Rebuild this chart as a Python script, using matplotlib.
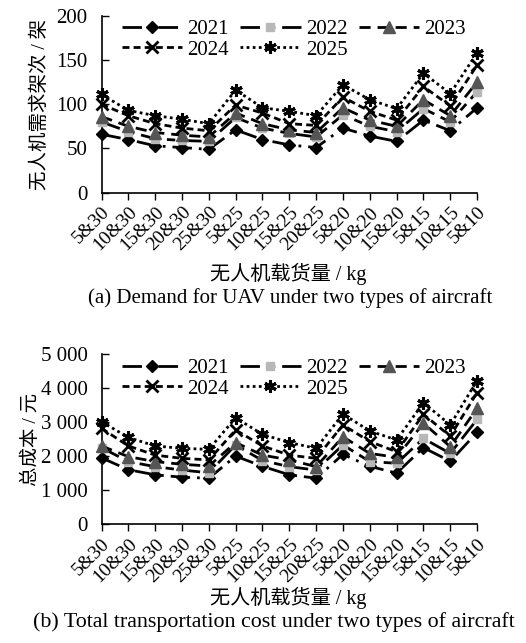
import matplotlib
matplotlib.use("Agg")
import matplotlib.pyplot as plt
import numpy as np

plt.rcParams['font.family'] = ['Liberation Serif', 'Noto Sans CJK SC']

cats = ['5&30', '10&30', '15&30', '20&30', '25&30', '5&25', '10&25', '15&25',
        '20&25', '5&20', '10&20', '15&20', '5&15', '10&15', '5&10']
years = ['2021', '2022', '2023', '2024', '2025']

# (a) UAV demand
dem_2021 = [66, 60, 53, 51, 49, 71, 60, 54, 51, 73, 64, 58, 82, 70, 96]
dem_2022 = [80, 69, 61, 59, 58, 85, 73, 67, 63, 88, 75, 69, 95, 80, 114]
dem_2023 = [86, 75, 68, 65, 63, 90, 78, 71, 68, 96, 82, 75, 105, 87, 125]
dem_2024 = [100, 87, 78, 73, 70, 99, 90, 78, 76, 108, 92, 82, 120, 98, 144]
dem_2025 = [111, 93, 87, 83, 78, 116, 96, 92, 87, 122, 105, 95, 135, 112, 158]

# (b) total cost
cost_2021 = [1950, 1600, 1450, 1380, 1350, 2000, 1700, 1450, 1350, 2050, 1700, 1500, 2250, 1850, 2700]
cost_2022 = [2250, 1840, 1690, 1590, 1510, 2330, 1870, 1690, 1590, 2330, 1840, 1790, 2520, 2080, 3080]
cost_2023 = [2300, 1985, 1840, 1760, 1710, 2400, 2030, 1890, 1690, 2570, 2080, 1965, 2970, 2280, 3410]
cost_2024 = [2820, 2300, 2030, 1935, 1890, 2770, 2300, 2030, 1935, 2920, 2430, 2130, 3230, 2590, 3870]
cost_2025 = [3015, 2550, 2300, 2230, 2200, 3130, 2640, 2400, 2230, 3240, 2740, 2475, 3575, 2920, 4225]

styles = {
    '2021': dict(color='black', ls=(0, (7, 2.5, 1, 2.5)), marker='D', ms=6, mfc='black', mec='black'),
    '2022': dict(color='black', ls=(0, (7, 2.5, 3, 2.5)), marker='s', ms=6, mfc='#b8b8b8', mec='#b8b8b8'),
    '2023': dict(color='black', ls=(0, (4, 2.5)), marker='^', ms=8, mfc='#555555', mec='#555555'),
    '2024': dict(color='black', ls=(0, (2.5, 1.5)), marker='x', ms=9, mew=2, mfc='black', mec='black'),
    '2025': dict(color='black', ls=(0, (1, 1.2)), marker=(6, 2, 0), ms=9, mew=2.2, mfc='black', mec='black'),
}

fig = plt.figure(figsize=(5.26, 6.43), dpi=100)
ax1 = fig.add_axes([0.193, 0.7003, 0.714, 0.2753])
ax2 = fig.add_axes([0.193, 0.185, 0.714, 0.264])

x = np.arange(len(cats))


def draw(ax, series, ymax, step, ylabel, yfmt):
    lines = {}
    for yr, vals in zip(years, series):
        st = styles[yr]
        ln, = ax.plot(x, vals, lw=2.0, clip_on=False, zorder=3, label=yr, **st)
        lines[yr] = ln
    ax.set_xlim(0, 14)
    ax.set_ylim(0, ymax)
    ticks = np.arange(0, ymax + 1, step)
    ax.set_yticks(ticks)
    ax.set_yticklabels([yfmt(t) for t in ticks], fontsize=15)
    ax.set_xticks(x)
    ax.set_xticklabels(cats, rotation=45, ha='right', rotation_mode='anchor', fontsize=14)
    ax.tick_params(axis='y', direction='in', length=5, width=1, pad=10)
    ax.tick_params(axis='x', direction='out', length=5, width=1, pad=3)
    for s in ['top', 'right']:
        ax.spines[s].set_visible(False)
    for s in ['left', 'bottom']:
        ax.spines[s].set_linewidth(1.2)
    ax.set_ylabel(ylabel, fontsize=14)
    order = ['2021', '2024', '2022', '2025', '2023']
    ax.legend([lines[k] for k in order], order, ncol=3, frameon=False, fontsize=15,
              loc='upper left', bbox_to_anchor=(0.02, 1.05), handlelength=2.9,
              handletextpad=0.25, columnspacing=0.55, labelspacing=0.05,
              borderaxespad=0.2, numpoints=1)


draw(ax1, [dem_2021, dem_2022, dem_2023, dem_2024, dem_2025], 200, 50,
     '无人机需求架次 / 架', lambda t: str(int(t)))
draw(ax2, [cost_2021, cost_2022, cost_2023, cost_2024, cost_2025], 5000, 1000,
     '总成本 / 元', lambda t: '{:,}'.format(int(t)).replace(',', ' '))

ax1.yaxis.set_label_coords(-0.14, 0.5)
ax2.yaxis.set_label_coords(-0.165, 0.5)

fig.text(0.548, 1 - 274 / 643, '无人机载货量 / kg', ha='center', va='center', fontsize=14.5)
fig.text(0.551, 1 - 298 / 643, '(a) Demand for UAV under two types of aircraft',
         ha='center', va='center', fontsize=15)
fig.text(0.548, 1 - 598 / 643, '无人机载货量 / kg', ha='center', va='center', fontsize=14.5)
fig.text(0.52, 1 - 622 / 643, '(b) Total transportation cost under two types of aircraft',
         ha='center', va='center', fontsize=15.8)

fig.savefig('out.png', dpi=100)
